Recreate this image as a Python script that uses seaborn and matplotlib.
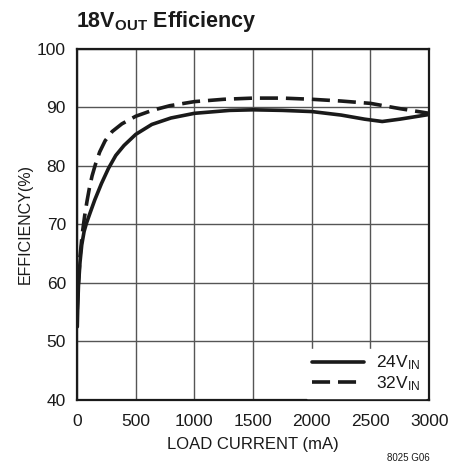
import numpy as np
import pandas as pd
import seaborn as sns

from matplotlib import pyplot as plt

# values (load current in mA, efficiency in %)
CURRENT_24V = [2, 6, 12, 25, 40, 60, 80, 108, 151, 208, 268, 330, 400, 500, 637, 800, 1000, 1300, 1500, 1750, 2000, 2250, 2450, 2600, 2750, 3000]
EFF_24V = [52.5, 56.0, 59.5, 63.5, 66.5, 68.8, 70.2, 71.8, 74.2, 77.0, 79.6, 81.8, 83.5, 85.4, 87.1, 88.2, 89.0, 89.5, 89.6, 89.5, 89.3, 88.7, 88.0, 87.6, 88.0, 88.8]
CURRENT_32V = [2, 10, 25, 45, 65, 85, 105, 128, 157, 193, 239, 300, 382, 500, 640, 790, 1000, 1250, 1500, 1750, 2000, 2250, 2500, 2750, 3000]
EFF_32V = [55.5, 59.5, 64.5, 68.5, 71.5, 74.0, 76.2, 78.3, 80.3, 82.4, 84.3, 85.9, 87.2, 88.5, 89.5, 90.3, 91.0, 91.4, 91.6, 91.6, 91.4, 91.1, 90.7, 89.8, 89.0]
SERIES = ["24V", "32V"]
X_TICKS = [0, 500, 1000, 1500, 2000, 2500, 3000]
Y_TICKS = [40, 50, 60, 70, 80, 90, 100]

FONT = "Liberation Sans"
INK = "#1a1a1a"

sns.set_theme(style="white")
plt.rcParams["font.family"] = [FONT, "DejaVu Sans"]
plt.rcParams["mathtext.default"] = "regular"

data = pd.concat([
    pd.DataFrame({"current": CURRENT_24V, "eff": EFF_24V, "vin": SERIES[0]}),
    pd.DataFrame({"current": CURRENT_32V, "eff": EFF_32V, "vin": SERIES[1]}),
])

fig = plt.figure(figsize=(4.67, 4.71), dpi=100)
ax = fig.add_axes([0.165, 0.151, 0.754, 0.745])

ax.grid(True, color="#555555", linewidth=1.0)
ax.set_axisbelow(True)
sns.lineplot(data=data, x="current", y="eff", style="vin", style_order=SERIES,
             dashes={"24V": "", "32V": (5, 2.2)}, color=INK, linewidth=2.6,
             ax=ax, legend=False, sort=False)

ax.set_xlim(0, 3000)
ax.set_ylim(40, 100)
ax.set_xticks(X_TICKS)
ax.set_yticks(Y_TICKS)
ax.tick_params(axis="both", length=0, labelsize=12.5, colors=INK)
ax.tick_params(axis="x", pad=10)
ax.tick_params(axis="y", pad=8)
for spine in ax.spines.values():
    spine.set_color(INK)
    spine.set_linewidth(1.6)

ax.set_xlabel("LOAD CURRENT (mA)", fontsize=12, color=INK, labelpad=6)
ax.set_ylabel("EFFICIENCY(%)", fontsize=11.5, color=INK, labelpad=3)

handles = [
    plt.Line2D([], [], color=INK, linewidth=2.6),
    plt.Line2D([], [], color=INK, linewidth=2.6, dashes=(5, 2.2)),
]
labels = [r"24V$_{\mathregular{IN}}$", r"32V$_{\mathregular{IN}}$"]
leg = ax.legend(handles, labels, loc="lower right", bbox_to_anchor=(0.99, 0.005),
                frameon=True, fancybox=False, framealpha=1, edgecolor="white",
                facecolor="white", fontsize=12.5, handlelength=3.0, handletextpad=0.7,
                labelspacing=0.1, borderpad=0.3, borderaxespad=0.0)
for t in leg.get_texts():
    t.set_color(INK)

fig.text(0.163, 0.955, r"18V$_{\mathregular{OUT}}$ Efficiency", fontsize=15.5, fontweight="bold",
         color=INK, ha="left", va="center")
fig.text(0.92, 0.017, "8025 G06", fontsize=7, color=INK, ha="right", va="bottom")

fig.savefig("out.png", dpi=100)
